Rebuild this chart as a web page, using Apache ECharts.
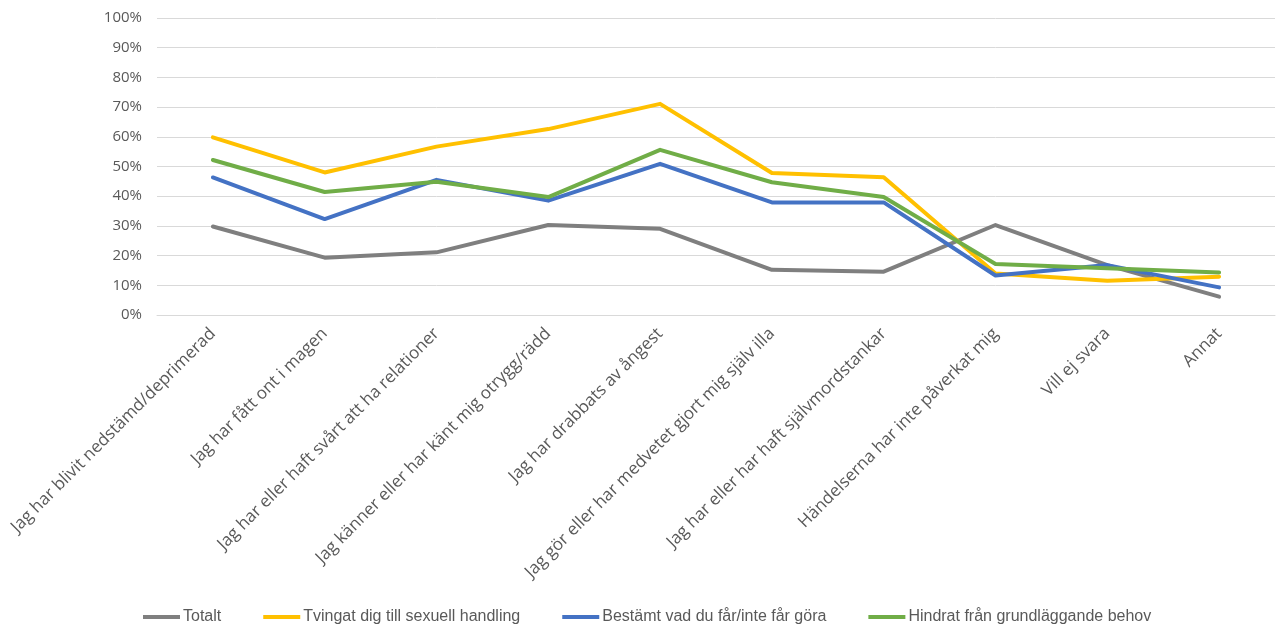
<!DOCTYPE html>
<html>
<head>
<meta charset="utf-8">
<script src="https://cdn.jsdelivr.net/npm/echarts@6/dist/echarts.min.js"></script>
<style>
html,body{margin:0;padding:0;background:#fff;}
#chart{width:1280px;height:628px;}
</style>
</head>
<body>
<div id="chart"></div>
<script>
const categories = [
  "Jag har blivit nedstämd/deprimerad",
  "Jag har fått ont i magen",
  "Jag har eller haft svårt att ha relationer",
  "Jag känner eller har känt mig otrygg/rädd",
  "Jag har drabbats av ångest",
  "Jag gör eller har medvetet gjort mig själv illa",
  "Jag har eller har haft självmordstankar",
  "Händelserna har inte påverkat mig",
  "Vill ej svara",
  "Annat"
];
const seriesNames = [
  "Totalt",
  "Tvingat dig till sexuell handling",
  "Bestämt vad du får/inte får göra",
  "Hindrat från grundläggande behov"
];
const totalt   = [29.8, 19.3, 21.1, 30.3, 29.0, 15.2, 14.6, 30.3, 16.8, 6.2];
const tvingat  = [59.8, 48.0, 56.7, 62.6, 71.1, 47.8, 46.4, 14.0, 11.5, 12.9];
const bestamt  = [46.3, 32.3, 45.5, 38.5, 50.9, 37.9, 37.9, 13.3, 16.8, 9.3];
const hindrat  = [52.2, 41.4, 44.9, 39.7, 55.6, 44.7, 39.7, 17.2, 15.7, 14.3];
const colors = ["#7f7f7f", "#ffc000", "#4472c4", "#70ad47"];
const values = [totalt, tvingat, bestamt, hindrat];

const chart = echarts.init(document.getElementById('chart'), null, {renderer: 'canvas'});
chart.setOption({
  animation: false,
  color: colors,
  grid: {left: 157, right: 5, top: 18, bottom: 313, containLabel: false},
  legend: {
    top: 604,
    left: 138,
    icon: 'rect',
    itemWidth: 37,
    itemHeight: 4,
    itemGap: 42,
    textStyle: {fontFamily: '"Liberation Sans Narrow", "Liberation Sans", sans-serif', fontSize: 16, color: '#595959', padding: [0, 0, 0, -2]},
    data: seriesNames
  },
  xAxis: {
    type: 'category',
    data: categories,
    boundaryGap: true,
    axisLine: {show: true, lineStyle: {color: '#d9d9d9', width: 1}},
    axisTick: {show: false},
    axisLabel: {
      rotate: 45,
      interval: 0,
      margin: 16,
      fontFamily: '"Open Sans", sans-serif',
      fontSize: 17,
      color: '#595959'
    }
  },
  yAxis: {
    type: 'value',
    min: 0,
    max: 100,
    interval: 10,
    axisLine: {show: false},
    axisTick: {show: false},
    splitLine: {lineStyle: {color: '#d9d9d9', width: 1}},
    axisLabel: {
      formatter: '{value}%',
      margin: 15,
      fontFamily: '"Open Sans", sans-serif',
      fontSize: 15,
      color: '#595959'
    }
  },
  series: seriesNames.map((n, i) => ({
    name: n,
    type: 'line',
    data: values[i],
    symbol: 'none',
    lineStyle: {width: 4, color: colors[i], cap: 'round', join: 'round'},
    itemStyle: {color: colors[i]}
  }))
});
</script>
</body>
</html>
